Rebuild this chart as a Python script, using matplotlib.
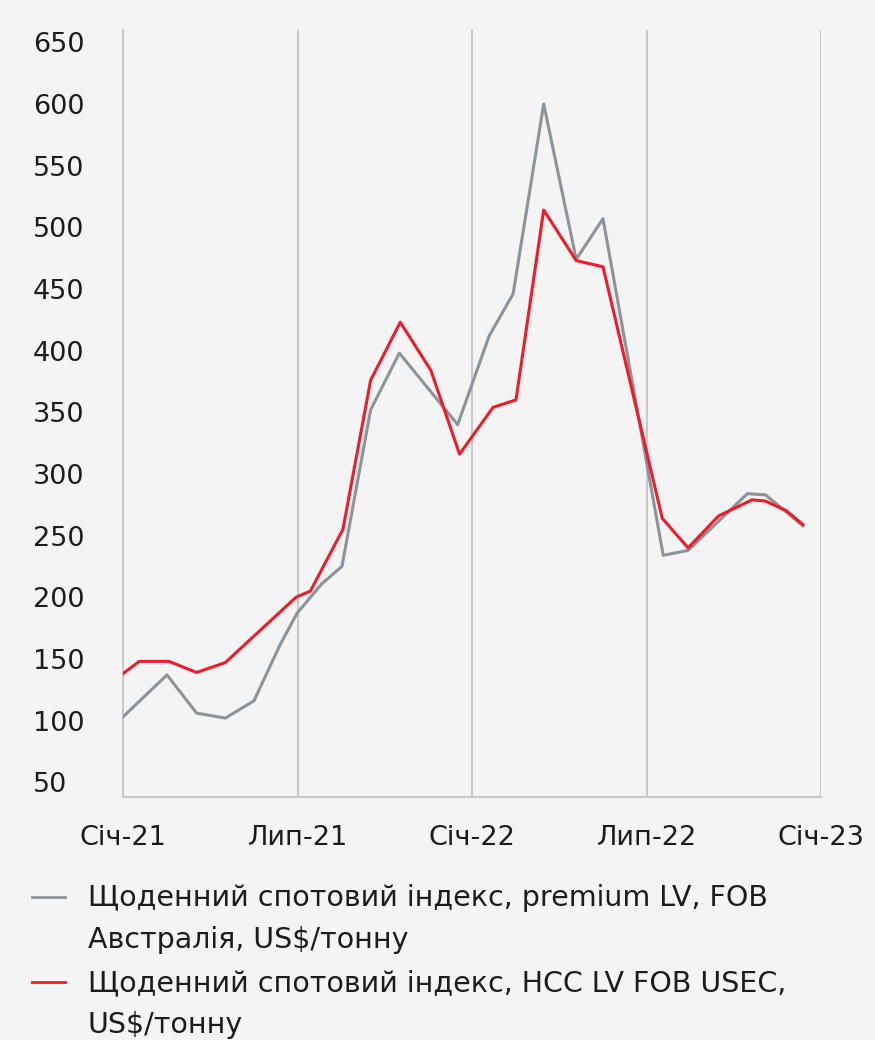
import pandas as pd
import matplotlib
matplotlib.use("Agg")
import matplotlib.pyplot as plt
from matplotlib.lines import Line2D

# values
grey_dates = ["2021-01-01", "2021-02-16", "2021-03-19", "2021-04-18", "2021-05-18",
              "2021-06-14", "2021-07-02", "2021-07-28", "2021-08-18", "2021-09-17",
              "2021-10-17", "2021-12-17", "2022-01-19", "2022-02-13", "2022-03-17",
              "2022-04-20", "2022-05-18", "2022-07-20", "2022-08-15", "2022-10-16",
              "2022-11-04", "2022-12-13"]
grey_values = [103, 137, 106, 102, 116, 161, 187, 211, 225, 352,
               398, 340, 412, 446, 600, 474, 507, 234, 238, 284,
               283, 258]

red_dates = ["2021-01-01", "2021-01-18", "2021-02-18", "2021-03-19", "2021-04-18",
             "2021-07-01", "2021-07-16", "2021-08-19", "2021-09-17", "2021-10-18",
             "2021-11-19", "2021-12-19", "2022-01-23", "2022-02-16", "2022-03-17",
             "2022-04-20", "2022-05-18", "2022-07-19", "2022-08-15", "2022-09-16",
             "2022-10-21", "2022-11-04", "2022-11-26", "2022-12-13"]
red_values = [138, 148, 148, 139, 147, 200, 205, 255, 376, 423,
              384, 316, 354, 360, 514, 473, 468, 264, 240, 266,
              279, 278, 270, 259]

tick_dates = ["2021-01-01", "2021-07-03", "2022-01-01", "2022-07-03", "2023-01-01"]
tick_labels = ["Січ-21", "Лип-21", "Січ-22", "Лип-22", "Січ-23"]
y_ticks = list(range(50, 651, 50))

labels = ["Щоденний спотовий індекс, premium LV, FOB\nАвстралія, US$/тонну",
          "Щоденний спотовий індекс, HCC LV FOB USEC,\nUS$/тонну"]

bg = "#f4f4f4"
grey = "#8d9399"
red = "#ee1c2a"
txt = "#1c1c1c"
gridc = "#c9c9c9"

plt.rcParams['font.family'] = ['DejaVu Sans']

fig = plt.figure(figsize=(8.75, 10.4), dpi=100, facecolor=bg)
ax = fig.add_axes([123 / 875, 1 - 797 / 1040, (821 - 123) / 875, (797 - 30) / 1040])
ax.set_facecolor(bg)

ax.plot(pd.to_datetime(grey_dates), grey_values, color=grey, lw=2.2, zorder=3)
ax.plot(pd.to_datetime(red_dates), red_values, color=red, lw=2.2, zorder=4)

ax.set_xlim(pd.Timestamp("2021-01-01"), pd.Timestamp("2023-01-01"))
ax.set_ylim(38, 660)
ax.set_xticks(pd.to_datetime(tick_dates))
ax.set_xticklabels(tick_labels)
ax.set_yticks(y_ticks)
ax.set_yticklabels([str(v) for v in y_ticks])

ax.grid(axis='x', color=gridc, lw=1.5)
ax.grid(axis='y', visible=False)
for s in ['top', 'right']:
    ax.spines[s].set_visible(False)
for s in ['left', 'bottom']:
    ax.spines[s].set_color(gridc)
    ax.spines[s].set_linewidth(1.5)

ax.tick_params(axis='x', length=0, pad=20, labelsize=19.5, labelcolor=txt)
ax.tick_params(axis='y', length=0, pad=65, labelsize=19.5, labelcolor=txt)
for t in ax.get_yticklabels():
    t.set_horizontalalignment('left')

# legend drawn by hand so the marker sits on the first text line
legend_rows = [897, 982]
for lab, col, yy in zip(labels, [grey, red], legend_rows):
    yf = 1 - yy / 1040
    fig.add_artist(Line2D([32 / 875, 65 / 875], [yf, yf], color=col, lw=2,
                          transform=fig.transFigure))
    fig.text(88 / 875, yf + 13 / 1040, lab, fontsize=20.5, color=txt, va='top',
             ha='left', linespacing=1.62)

fig.savefig("out.png", dpi=100, facecolor=bg)
